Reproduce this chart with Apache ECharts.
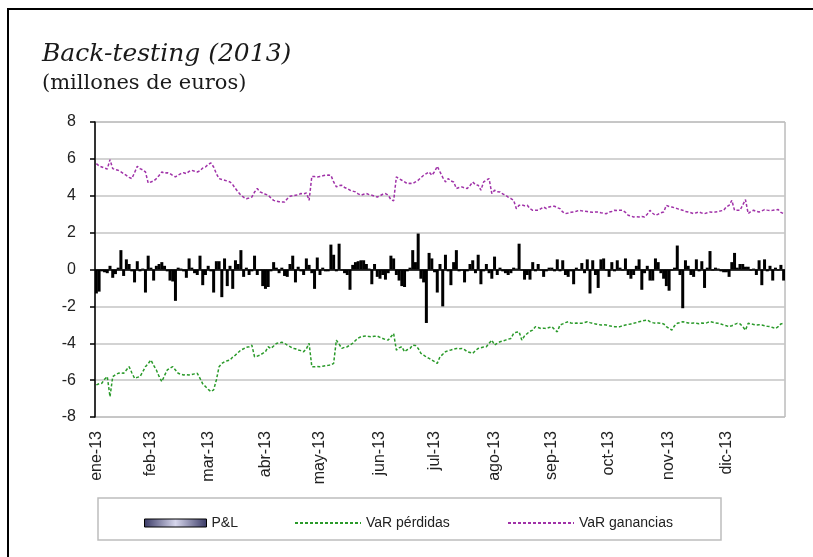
<!DOCTYPE html>
<html>
<head>
<meta charset="utf-8">
<script src="https://cdn.jsdelivr.net/npm/echarts@6/dist/echarts.min.js"></script>
<style>
  html, body { margin: 0; padding: 0; background: #fff; }
  #chart { width: 813px; height: 557px; }
</style>
</head>
<body>
<div id="chart"></div>
<script>
  // meses y numero de sesiones por mes
  const monthLabels = ['ene-13', 'feb-13', 'mar-13', 'abr-13', 'may-13', 'jun-13', 'jul-13', 'ago-13', 'sep-13', 'oct-13', 'nov-13', 'dic-13'];
  const monthDays = [20, 21, 21, 20, 22, 20, 22, 21, 21, 22, 21, 22];
  const yTicks = [-8, -6, -4, -2, 0, 2, 4, 6, 8];

  // P&L diario
  const pnl = [
    -1.3, -1.2, -0.1, -0.15, -0.2, 0.2, -0.45, -0.25, 0.1, 1.05, -0.35, 0.55, 0.3, -0.1, -0.7, 0.45, -0.1, 0.05, -1.25, 0.75,
    0.1, -0.6, 0.2, 0.3, 0.4, 0.2, -0.1, -0.6, -0.65, -1.7, 0.1, 0.05, -0.1, -0.45, 0.6, 0.1, -0.2, -0.3, 0.75, -0.85, -0.3,
    0.2, -0.1, -1.25, 0.45, 0.45, -1.5, 0.6, -0.9, 0.2, -1.05, 0.5, 0.3, 1.05, -0.4, 0.1, -0.3, -0.1, 0.75, -0.3, -0.05, -0.9,
    -1.05, -0.95, -0.1, 0.4, 0.1, -0.2, 0.1, -0.35, -0.4, 0.3, 0.75, -0.7, 0.15, -0.1, -0.3, 0.6, 0.25, -0.2, -1.05, 0.65,
    -0.3, 0.1, -0.1, -0.1, 1.35, 0.8, -0.1, 1.4, -0.05, -0.2, -0.3, -1.1, 0.25, 0.4, 0.45, 0.5, 0.5, 0.3, 0.05, -0.8,
    0.3, -0.4, -0.5, -0.3, -0.55, -0.2, 0.75, 0.6, -0.3, -0.6, -0.9, -0.95, -0.1, 0.1, 1.05, 0.4, 1.95, -0.5, -0.7, -2.9,
    0.9, 0.6, -0.15, -1.25, 0.3, -2.0, 0.8, -0.1, -0.85, 0.4, 1.05, -0.1, -0.05, -0.7, -0.1, 0.3, 0.5, -0.2, 0.8, -0.8,
    -0.1, 0.3, -0.2, -0.5, 0.7, -0.3, 0.1, -0.1, -0.2, -0.3, -0.2, 0.1, 0.05, 1.4, -0.05, -0.55, -0.3, -0.55, 0.4, -0.1,
    0.3, -0.05, -0.4, -0.1, 0.1, 0.1, -0.1, 0.55, -0.1, 0.5, -0.3, -0.4, -0.1, -0.8, 0.1, -0.05, 0.35, -0.2, 0.55, -1.3,
    0.5, -0.3, -1.0, 0.55, 0.6, -0.05, -0.4, 0.4, -0.1, 0.5, 0.1, -0.05, 0.6, -0.3, -0.5, -0.3, 0.2, 0.55, -1.1, -0.2,
    0.2, -0.6, -0.6, 0.6, 0.4, -0.2, -0.5, -0.9, -1.15, -0.05, 0.1, 1.3, -0.3, -2.1, 0.5, 0.2, -0.3, -0.4, 0.55, -0.1,
    0.45, -1.0, 0.1, 1.0, -0.05, 0.1, 0.05, -0.1, -0.15, -0.15, -0.4, 0.4, 0.9, 0.1, 0.3, 0.3, 0.15, 0.15, -0.05, 0.05,
    -0.3, 0.5, -0.85, 0.55, -0.1, 0.2, -0.6, 0.1, -0.05, 0.25, -0.6
  ];

  // VaR perdidas (verde)
  const varPerdidas = [
    -6.26, -6.2, -6.17, -5.95, -5.81, -6.9, -5.81, -5.7, -5.63, -5.6, -5.63, -5.45, -5.27, -5.6, -5.9, -5.85, -5.81, -5.55, -5.27, -5.1,
    -4.91, -5.2, -5.45, -5.8, -6.08, -5.75, -5.45, -5.35, -5.27, -5.45, -5.63, -5.68, -5.72, -5.7, -5.72, -5.7, -5.66, -5.63, -5.9, -6.2,
    -6.35, -6.5, -6.62, -6.53, -5.99, -5.27, -5.1, -5.0, -4.95, -4.91, -4.75, -4.64, -4.5, -4.37, -4.3, -4.22, -4.19, -4.1, -4.73, -4.7,
    -4.64, -4.55, -4.46, -4.19, -4.28, -4.15, -4.01, -3.98, -3.95, -4.0, -4.1, -4.18, -4.28, -4.3, -4.37, -4.4, -4.46, -4.3, -4.0, -5.27,
    -5.28, -5.26, -5.27, -5.25, -5.22, -5.2, -5.18, -5.09, -3.83, -4.05, -4.28, -4.22, -4.19, -4.1, -4.0, -3.85, -3.72, -3.65, -3.62, -3.61,
    -3.64, -3.65, -3.62, -3.61, -3.68, -3.74, -3.8, -3.83, -3.65, -3.47, -4.37, -4.25, -4.19, -4.46, -4.35, -4.28, -4.1, -4.12, -4.28, -4.55,
    -4.64, -4.75, -4.82, -4.91, -5.0, -5.09, -4.73, -4.6, -4.46, -4.4, -4.37, -4.32, -4.28, -4.3, -4.28, -4.35, -4.46, -4.5, -4.55, -4.4,
    -4.28, -4.25, -4.2, -4.19, -4.0, -3.83, -4.1, -4.0, -3.92, -3.88, -3.83, -3.78, -3.74, -3.47, -3.4, -3.38, -3.83, -3.6, -3.47, -3.35,
    -3.29, -3.1, -3.15, -3.2, -3.18, -3.2, -3.15, -3.1, -3.25, -3.38, -3.01, -2.95, -2.88, -2.83, -2.9, -2.92, -2.9, -2.92, -2.92, -2.88,
    -2.83, -2.88, -2.92, -2.95, -2.98, -3.01, -3.0, -3.01, -3.05, -3.08, -3.1, -3.1, -3.1, -3.05, -3.01, -2.98, -2.95, -2.92, -2.88, -2.83,
    -2.8, -2.76, -2.74, -2.83, -2.88, -2.92, -2.9, -2.92, -2.95, -3.1, -3.2, -3.29, -3.05, -2.92, -2.88, -2.83, -2.86, -2.9, -2.92, -2.9,
    -2.92, -2.94, -2.9, -2.92, -2.88, -2.83, -2.86, -2.9, -2.92, -2.96, -3.01, -3.05, -3.1, -3.05, -2.98, -2.92, -2.95, -3.1, -3.29, -2.92,
    -2.95, -2.98, -3.01, -3.0, -3.01, -3.05, -3.08, -3.1, -3.15, -3.2, -3.1, -2.95, -2.92
  ];

  // VaR ganancias (morado)
  const varGanancias = [
    5.74, 5.62, 5.56, 5.5, 5.45, 5.96, 5.47, 5.42, 5.38, 5.3, 5.2, 5.1, 5.0, 4.93, 5.25, 5.6, 5.47, 5.4, 5.29, 4.69,
    4.75, 4.8, 4.93, 5.1, 5.29, 5.22, 5.25, 5.2, 5.1, 5.02, 5.12, 5.2, 5.25, 5.2, 5.32, 5.38, 5.33, 5.29, 5.35, 5.5,
    5.56, 5.7, 5.78, 5.56, 5.2, 4.93, 4.88, 4.84, 4.8, 4.75, 4.6, 4.39, 4.2, 4.03, 3.92, 3.84, 3.88, 3.93, 4.2, 4.39,
    4.21, 4.15, 4.08, 4.03, 3.88, 3.75, 3.7, 3.68, 3.66, 3.66, 3.84, 3.97, 4.0, 4.03, 4.05, 4.12, 4.1, 4.15, 3.75, 5.05,
    5.04, 5.02, 5.05, 5.08, 5.11, 5.12, 5.11, 4.75, 4.48, 4.55, 4.57, 4.45, 4.39, 4.3, 4.25, 4.21, 4.1, 4.03, 4.08, 4.12,
    4.06, 4.03, 3.98, 3.93, 4.0, 4.08, 4.12, 4.03, 3.79, 3.72, 5.02, 4.92, 4.84, 4.75, 4.66, 4.68, 4.66, 4.75, 4.84, 4.98,
    5.11, 5.2, 5.29, 5.11, 5.3, 5.6, 5.29, 5.0, 4.75, 4.93, 4.8, 4.75, 4.39, 4.45, 4.48, 4.42, 4.39, 4.55, 4.75, 4.6,
    4.57, 4.3, 4.75, 4.85, 4.93, 4.12, 4.3, 4.22, 4.21, 4.1, 4.03, 3.93, 3.85, 3.75, 3.3, 3.48, 3.5, 3.46, 3.48, 3.3,
    3.21, 3.22, 3.21, 3.3, 3.39, 3.3, 3.39, 3.42, 3.43, 3.35, 3.3, 3.12, 3.03, 3.06, 3.1, 3.12, 3.16, 3.21, 3.18, 3.16,
    3.14, 3.12, 3.1, 3.12, 3.12, 3.08, 3.05, 3.03, 3.12, 3.15, 3.21, 3.2, 3.22, 3.21, 3.1, 2.94, 2.9, 2.85, 2.86, 2.85,
    2.88, 2.85, 3.0, 3.21, 3.05, 2.94, 3.0, 3.08, 3.12, 3.48, 3.42, 3.39, 3.35, 3.3, 3.25, 3.21, 3.15, 3.12, 3.08, 3.03,
    3.08, 3.12, 3.06, 3.03, 3.08, 3.12, 3.1, 3.12, 3.14, 3.18, 3.21, 3.4, 3.48, 3.75, 3.21, 3.22, 3.21, 3.5, 3.79, 3.03,
    3.15, 3.21, 3.15, 3.12, 3.18, 3.25, 3.22, 3.2, 3.21, 3.24, 3.25, 3.1, 3.03
  ];

  // categorias: una por sesion, etiqueta solo al inicio de cada mes
  const categories = [];
  const monthStart = new Set();
  monthLabels.forEach((m, i) => {
    monthStart.add(categories.length);
    for (let d = 0; d < monthDays[i]; d++) {
      categories.push(m + ' ' + (d + 1));
    }
  });

  const legendText = { fontFamily: 'Liberation Sans', fontSize: 14, color: '#222' };

  const chart = echarts.init(document.getElementById('chart'));
  const option = {
    backgroundColor: '#fff',
    animation: false,
    title: {
      text: 'Back-testing (2013)',
      subtext: '(millones de euros)',
      left: 37,
      top: 37,
      itemGap: 6,
      textStyle: {
        fontFamily: 'DejaVu Serif',
        fontStyle: 'italic',
        fontWeight: 'normal',
        fontSize: 25,
        color: '#1a1a1a'
      },
      subtextStyle: {
        fontFamily: 'DejaVu Serif',
        fontSize: 21,
        color: '#1a1a1a'
      }
    },
    graphic: [
      {
        type: 'rect',
        shape: { x: 8, y: 9, width: 830, height: 580 },
        style: { fill: 'none', stroke: '#000', lineWidth: 2 },
        silent: true
      },
      {
        type: 'rect',
        shape: { x: 98, y: 498, width: 623, height: 42 },
        style: { fill: 'none', stroke: '#bdbdbd', lineWidth: 1.5 },
        silent: true
      }
    ],
    legend: [
      {
        data: [{
          name: 'P&L',
          icon: 'rect',
          itemStyle: {
            color: new echarts.graphic.LinearGradient(0, 0, 1, 0, [
              { offset: 0, color: '#3a3a66' },
              { offset: 0.5, color: '#d6d6ec' },
              { offset: 1, color: '#3a3a66' }
            ]),
            borderColor: '#000',
            borderWidth: 1
          }
        }],
        left: 139, top: 511,
        itemWidth: 62, itemHeight: 8,
        textStyle: legendText
      },
      {
        data: [{ name: 'VaR pérdidas', itemStyle: { opacity: 0 } }],
        left: 289, top: 511,
        itemWidth: 66, itemHeight: 8,
        textStyle: legendText
      },
      {
        data: [{ name: 'VaR ganancias', itemStyle: { opacity: 0 } }],
        left: 502, top: 511,
        itemWidth: 66, itemHeight: 8,
        textStyle: legendText
      }
    ],
    grid: {
      left: 95,
      right: 28,
      top: 122,
      bottom: 140,
      show: true,
      borderColor: '#9a9a9a',
      borderWidth: 1
    },
    xAxis: {
      type: 'category',
      data: categories,
      boundaryGap: true,
      axisLine: { show: false, onZero: false },
      axisTick: { show: false },
      splitLine: { show: false },
      axisLabel: {
        rotate: 90,
        margin: 14,
        fontFamily: 'Liberation Sans',
        fontSize: 16,
        color: '#222',
        hideOverlap: false,
        interval: (idx) => monthStart.has(idx),
        formatter: (v) => v.split(' ')[0]
      }
    },
    yAxis: {
      type: 'value',
      min: yTicks[0],
      max: yTicks[yTicks.length - 1],
      interval: 2,
      axisLine: { show: true, lineStyle: { color: '#000', width: 1.5 } },
      axisTick: { show: true, inside: false, length: 5, lineStyle: { color: '#000', width: 1.5 } },
      axisLabel: {
        margin: 19,
        fontFamily: 'Liberation Sans',
        fontSize: 16,
        color: '#222'
      },
      splitLine: { show: true, lineStyle: { color: '#c4c4c4', width: 1.5 } }
    },
    series: [
      {
        name: 'P&L',
        type: 'bar',
        data: pnl,
        barWidth: 3,
        itemStyle: { color: '#000' },
        silent: true,
        markLine: {
          silent: true,
          symbol: 'none',
          label: { show: false },
          lineStyle: { color: '#000', type: 'solid', width: 1.5 },
          data: [{ yAxis: 0 }]
        }
      },
      {
        name: 'VaR pérdidas',
        type: 'line',
        data: varPerdidas,
        symbol: 'none',
        itemStyle: { color: '#2a9a2a' },
        lineStyle: { color: '#2a9a2a', width: 1.5, type: [3, 2] }
      },
      {
        name: 'VaR ganancias',
        type: 'line',
        data: varGanancias,
        symbol: 'none',
        itemStyle: { color: '#a032a8' },
        lineStyle: { color: '#a032a8', width: 1.5, type: [3, 2] }
      }
    ]
  };
  option && chart.setOption(option);
</script>
</body>
</html>
